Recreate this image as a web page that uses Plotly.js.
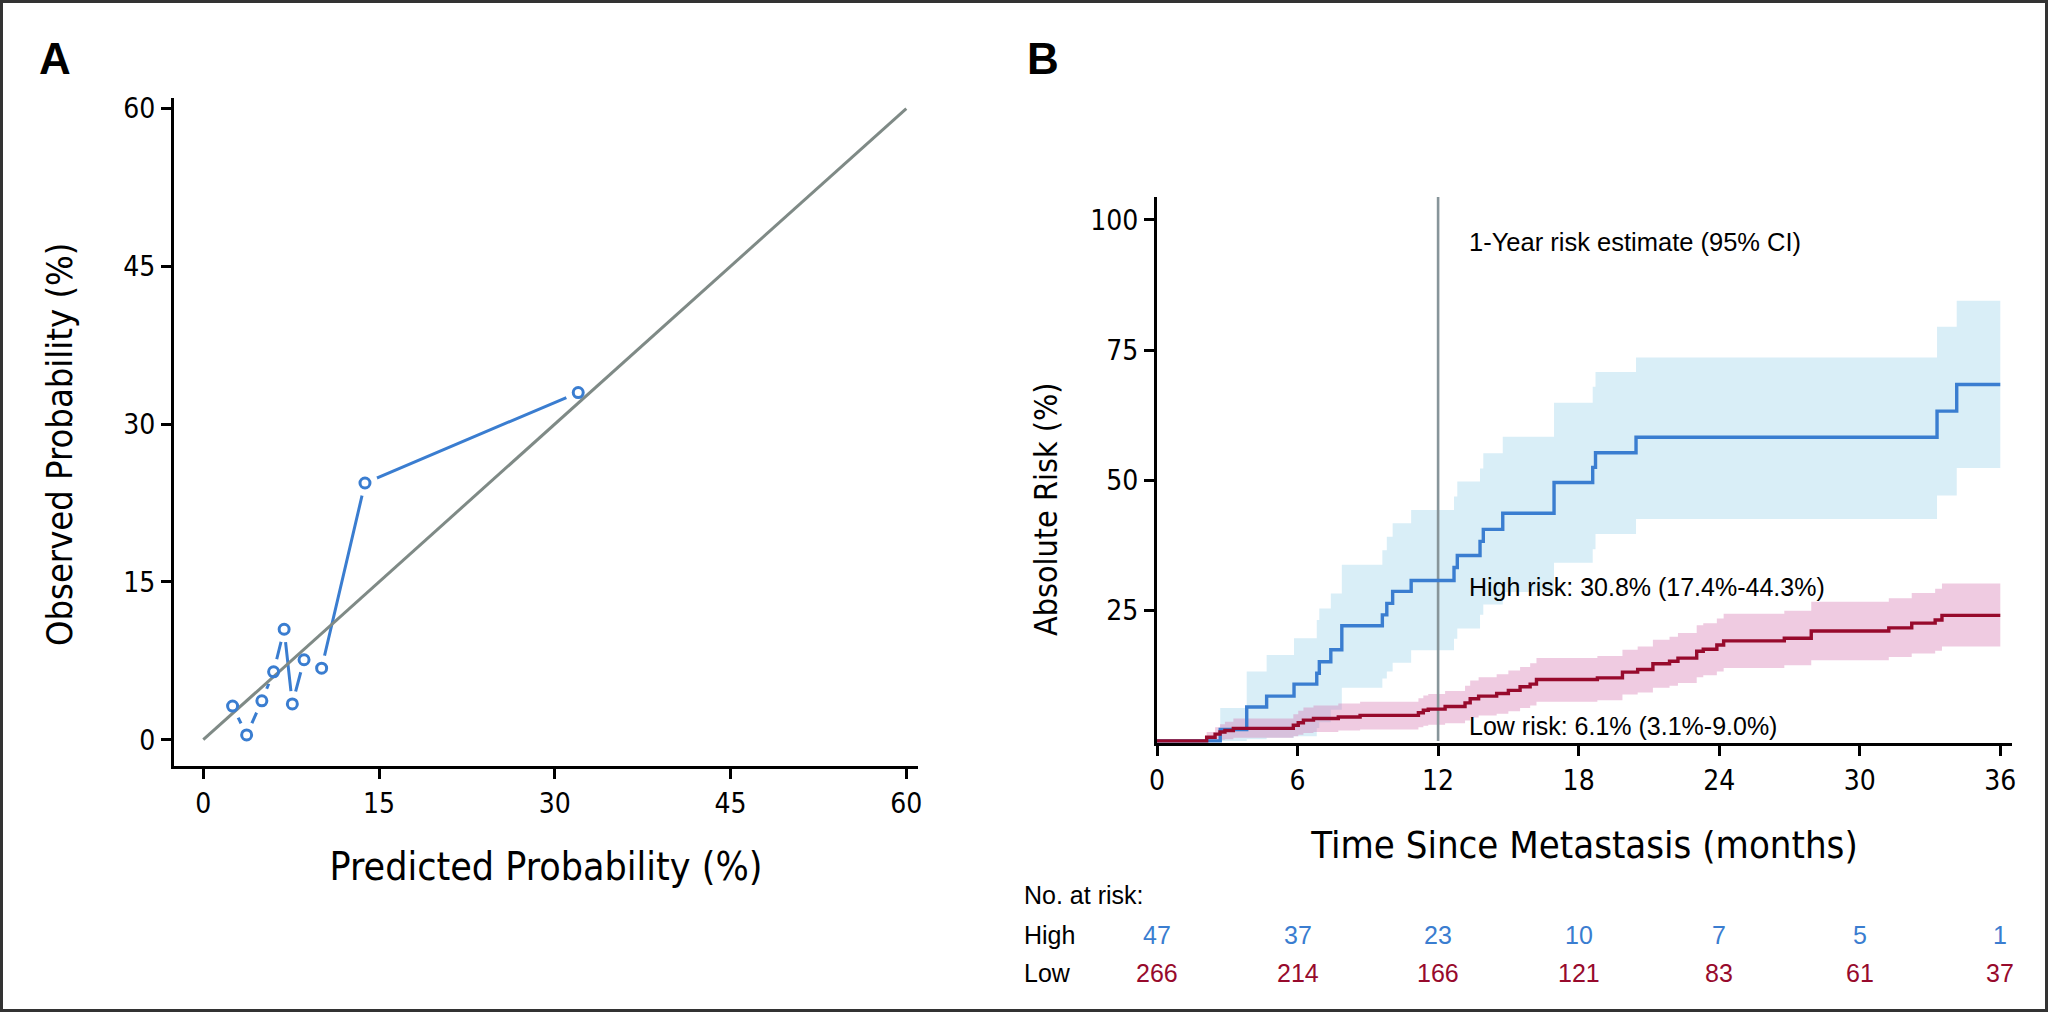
<!DOCTYPE html>
<html>
<head>
<meta charset="utf-8">
<script src="https://cdn.plot.ly/plotly-3.0.1.min.js"></script>
<style>
  html, body { margin: 0; padding: 0; background: #fff; }
  #chart { width: 2048px; height: 1012px; }
</style>
</head>
<body>
<div id="chart"></div>
<script>
// ---------- Panel A: calibration ----------
const predicted = [2.5, 3.7, 5.0, 6.0, 6.9, 7.6, 8.6, 10.1, 13.8, 32.0];
const observed  = [3.2, 0.45, 3.7, 6.45, 10.5, 3.4, 7.6, 6.8, 24.4, 33.0];
const identityLine = [0, 60];
const calTicks = [0, 15, 30, 45, 60];

// ---------- Panel B: cumulative incidence ----------
const highTime  = [0, 2.7, 3.83, 4.68, 5.85, 6.82, 6.93, 7.42, 7.89, 9.62, 9.81, 10.06, 10.85, 12.68, 12.82, 13.79, 13.93, 14.76, 16.95, 18.6, 18.72, 20.45, 33.3, 34.14, 36];
const highRisk  = [0, 2.2, 6.5, 8.6, 10.9, 13.0, 15.2, 17.5, 22.1, 24.2, 26.4, 28.7, 30.8, 33.3, 35.6, 38.3, 40.6, 43.7, 49.6, 52.5, 55.3, 58.3, 63.3, 68.4, 68.4];
const highLower = [0, 0, 0.3, 0.6, 0.9, 2.5, 3.6, 6.0, 10.2, 12.0, 13.3, 15.0, 17.4, 19.6, 21.6, 24.2, 26.2, 28.6, 34.2, 36.8, 39.7, 42.6, 47.1, 52.4, 52.4];
const highUpper = [0, 6.3, 13.3, 16.5, 19.7, 23.2, 25.4, 28.3, 33.8, 36.6, 39.2, 41.8, 44.3, 46.9, 49.8, 52.3, 55.2, 58.4, 64.9, 68.0, 70.8, 73.6, 79.5, 84.5, 84.5];

const lowTime  = [0, 2.12, 2.48, 2.69, 2.9, 3.26, 5.82, 6.03, 6.25, 6.68, 7.74, 8.67, 11.16, 11.37, 11.58, 12.3, 13.15, 13.37, 13.73, 14.5, 15.0, 15.5, 15.93, 16.2, 18.8, 19.87, 20.52, 21.17, 21.88, 22.24, 23.04, 23.32, 23.9, 24.19, 26.78, 27.93, 31.24, 32.22, 33.22, 33.51, 36];
const lowRisk  = [0, 0.7, 1.3, 1.7, 2.0, 2.4, 3.0, 3.5, 4.0, 4.3, 4.6, 4.9, 5.4, 5.9, 6.1, 6.6, 7.3, 8.1, 8.6, 9.1, 9.7, 10.4, 10.9, 11.8, 12.1, 13.2, 13.7, 14.8, 15.3, 15.9, 17.2, 17.6, 18.4, 19.2, 19.7, 21.1, 21.7, 22.6, 23.2, 24.1, 24.1];
const lowLower = [0, 0, 0.1, 0.2, 0.3, 0.6, 0.9, 1.2, 1.5, 1.7, 2.0, 2.2, 2.6, 2.9, 3.1, 3.4, 3.9, 4.5, 4.9, 5.2, 5.7, 6.3, 6.8, 7.5, 7.8, 8.9, 9.3, 10.2, 10.6, 11.1, 12.2, 12.6, 13.3, 14.0, 14.5, 15.5, 16.1, 16.8, 17.3, 18.1, 18.1];
const lowUpper = [0, 1.7, 2.6, 3.2, 3.7, 4.3, 5.1, 5.8, 6.4, 6.8, 7.2, 7.5, 8.2, 8.7, 9.0, 9.6, 10.6, 11.6, 12.2, 12.8, 13.5, 14.2, 14.9, 15.9, 16.3, 17.5, 18.1, 19.4, 20.0, 20.7, 22.2, 22.6, 23.5, 24.4, 25.0, 26.7, 27.4, 28.4, 29.2, 30.2, 30.2];

const landmarkMonth = 12;
const timeTicks = [0, 6, 12, 18, 24, 30, 36];
const riskTicks = [25, 50, 75, 100];

// ---------- Number at risk ----------
const tableTimes = [0, 6, 12, 18, 24, 30, 36];
const highAtRisk = [47, 37, 23, 10, 7, 5, 1];
const lowAtRisk  = [266, 214, 166, 121, 83, 61, 37];

// ---------- styling ----------
const NARROW = '"Liberation Sans Narrow", "DejaVu Sans Condensed", "Arial Narrow", sans-serif';
const SANS = '"Liberation Sans", Arial, sans-serif';
const BLUE = '#3a7dd0';
const BLUE_CI = '#d9eef7';
const RED = '#970a2c';
const PINK_CI = 'rgba(214,118,176,0.38)';
const GRAY = '#7f8a86';
const W = 2048, H = 1012;
const px = v => v / W;
const py = v => 1 - v / H;

const traces = [
  // Panel A
  { x: predicted, y: observed, xaxis: 'x', yaxis: 'y', mode: 'lines',
    line: { color: BLUE, width: 3 }, hoverinfo: 'skip' },
  { x: predicted, y: observed, xaxis: 'x', yaxis: 'y', mode: 'markers',
    marker: { color: '#ffffff', size: 26, line: { width: 0 } }, hoverinfo: 'skip' },
  { x: identityLine, y: identityLine, xaxis: 'x', yaxis: 'y', mode: 'lines',
    line: { color: GRAY, width: 3 }, hoverinfo: 'skip' },
  { x: predicted, y: observed, xaxis: 'x', yaxis: 'y', mode: 'markers',
    marker: { symbol: 'circle-open', color: BLUE, size: 10, line: { color: BLUE, width: 3 } } },

  // Panel B: CI bands
  { x: highTime, y: highLower, xaxis: 'x2', yaxis: 'y2', mode: 'lines',
    line: { shape: 'hv', width: 0, color: BLUE_CI }, hoverinfo: 'skip' },
  { x: highTime, y: highUpper, xaxis: 'x2', yaxis: 'y2', mode: 'lines', fill: 'tonexty',
    fillcolor: BLUE_CI, line: { shape: 'hv', width: 0, color: BLUE_CI }, hoverinfo: 'skip' },
  { x: lowTime, y: lowLower, xaxis: 'x2', yaxis: 'y2', mode: 'lines',
    line: { shape: 'hv', width: 0, color: PINK_CI }, hoverinfo: 'skip' },
  { x: lowTime, y: lowUpper, xaxis: 'x2', yaxis: 'y2', mode: 'lines', fill: 'tonexty',
    fillcolor: PINK_CI, line: { shape: 'hv', width: 0, color: PINK_CI }, hoverinfo: 'skip' },
  // 1-year landmark
  { x: [landmarkMonth, landmarkMonth], y: [0, 104.4], xaxis: 'x2', yaxis: 'y2', mode: 'lines',
    line: { color: '#87959a', width: 2.6 }, hoverinfo: 'skip' },
  // estimates
  { x: highTime, y: highRisk, xaxis: 'x2', yaxis: 'y2', mode: 'lines',
    line: { shape: 'hv', color: BLUE, width: 3.4 }, name: 'High' },
  { x: lowTime, y: lowRisk, xaxis: 'x2', yaxis: 'y2', mode: 'lines',
    line: { shape: 'hv', color: RED, width: 3.4 }, name: 'Low' }
];

const axisCommon = {
  ticks: 'outside', ticklen: 10, tickwidth: 3, tickcolor: '#000',
  showline: true, linewidth: 3, linecolor: '#000',
  showgrid: false, zeroline: false,
  tickfont: { family: NARROW, size: 28, color: '#000' }
};

const annotations = [
  { text: '<b>A</b>', xref: 'paper', yref: 'paper', x: px(55), y: py(58), showarrow: false,
    xanchor: 'center', yanchor: 'middle', font: { family: SANS, size: 44, color: '#000' } },
  { text: '<b>B</b>', xref: 'paper', yref: 'paper', x: px(1043), y: py(58), showarrow: false,
    xanchor: 'center', yanchor: 'middle', font: { family: SANS, size: 44, color: '#000' } },
  { text: 'Observed Probability (%)', xref: 'paper', yref: 'paper', x: px(59), y: py(444),
    textangle: -90, showarrow: false, xanchor: 'center', yanchor: 'middle',
    font: { family: NARROW, size: 36, color: '#000' } },
  { text: 'Absolute Risk (%)', xref: 'paper', yref: 'paper', x: px(1046), y: py(509),
    textangle: -90, showarrow: false, xanchor: 'center', yanchor: 'middle',
    font: { family: NARROW, size: 32, color: '#000' } },
  { text: '1-Year risk estimate (95% CI)', xref: 'x2', yref: 'y2', x: 13.25, y: 95.8,
    showarrow: false, xanchor: 'left', yanchor: 'middle', font: { family: SANS, size: 25.5, color: '#000' } },
  { text: 'High risk: 30.8% (17.4%-44.3%)', xref: 'x2', yref: 'y2', x: 13.25, y: 29.6,
    showarrow: false, xanchor: 'left', yanchor: 'middle', font: { family: SANS, size: 25, color: '#000' } },
  { text: 'Low risk: 6.1% (3.1%-9.0%)', xref: 'x2', yref: 'y2', x: 13.25, y: 2.9,
    showarrow: false, xanchor: 'left', yanchor: 'middle', font: { family: SANS, size: 25, color: '#000' } },
  { text: 'No. at risk:', xref: 'paper', yref: 'paper', x: px(1022), y: py(895),
    showarrow: false, xanchor: 'left', yanchor: 'middle', font: { family: SANS, size: 25, color: '#000' } },
  { text: 'High', xref: 'paper', yref: 'paper', x: px(1022), y: py(935),
    showarrow: false, xanchor: 'left', yanchor: 'middle', font: { family: SANS, size: 25, color: '#000' } },
  { text: 'Low', xref: 'paper', yref: 'paper', x: px(1022), y: py(973),
    showarrow: false, xanchor: 'left', yanchor: 'middle', font: { family: SANS, size: 25, color: '#000' } }
];
tableTimes.forEach((t, i) => {
  annotations.push({ text: String(highAtRisk[i]), xref: 'x2', yref: 'paper', x: t, y: py(935),
    showarrow: false, xanchor: 'center', yanchor: 'middle', font: { family: SANS, size: 25, color: BLUE } });
  annotations.push({ text: String(lowAtRisk[i]), xref: 'x2', yref: 'paper', x: t, y: py(973),
    showarrow: false, xanchor: 'center', yanchor: 'middle', font: { family: SANS, size: 25, color: RED } });
});

const layout = {
  width: W, height: H,
  margin: { l: 0, r: 0, t: 0, b: 0 },
  paper_bgcolor: '#ffffff', plot_bgcolor: 'rgba(0,0,0,0)',
  showlegend: false,
  xaxis: Object.assign({}, axisCommon, {
    domain: [px(174), px(918)], anchor: 'y', range: [-2.5, 61], tickvals: calTicks,
    title: { text: 'Predicted Probability (%)', font: { family: NARROW, size: 39, color: '#000' }, standoff: 35 }
  }),
  yaxis: Object.assign({}, axisCommon, {
    domain: [py(766), py(98)], anchor: 'x', range: [-2.5, 61], tickvals: calTicks
  }),
  xaxis2: Object.assign({}, axisCommon, {
    domain: [px(1157), px(2012)], anchor: 'y2', range: [0, 36.5], tickvals: timeTicks,
    title: { text: 'Time Since Metastasis (months)', font: { family: NARROW, size: 38, color: '#000' }, standoff: 36 }
  }),
  yaxis2: Object.assign({}, axisCommon, {
    domain: [py(743), py(197)], anchor: 'x2', range: [-0.4, 104.4], tickvals: riskTicks
  }),
  annotations: annotations,
  shapes: [
    { type: 'rect', xref: 'paper', yref: 'paper', x0: 0, x1: 1, y0: 0, y1: 1,
      line: { color: '#333', width: 6 }, fillcolor: 'rgba(0,0,0,0)', layer: 'above' }
  ]
};

Plotly.newPlot('chart', traces, layout, { staticPlot: true, displayModeBar: false });
</script>
</body>
</html>
